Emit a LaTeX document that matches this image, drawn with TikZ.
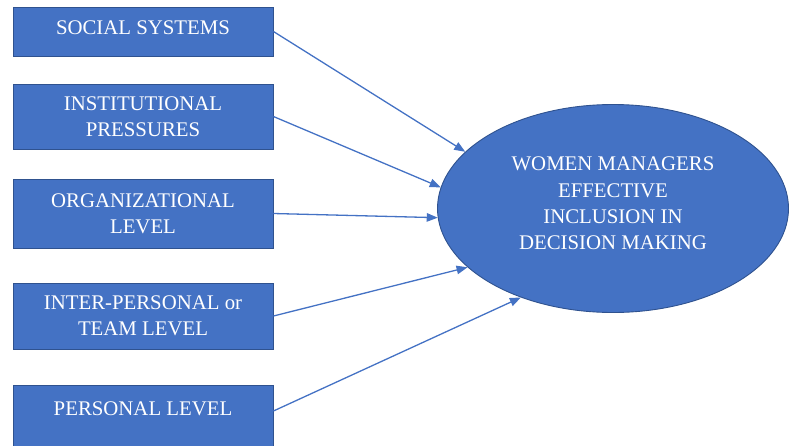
\documentclass[tikz,border=0pt]{standalone}
\usepackage{fontspec}
\setmainfont{Liberation Serif}
\usetikzlibrary{shapes.geometric,arrows.meta}
\definecolor{officeblue}{RGB}{68,114,196}
\definecolor{officeedge}{RGB}{47,82,143}

\begin{document}
\begin{tikzpicture}[x=1pt,y=1pt,
  factor/.style={draw=officeedge, line width=0.9pt, fill=officeblue, text=white, minimum width=260pt, inner sep=0pt, align=center, font=\fontsize{20.8}{26.3}\selectfont},
  link/.style={-{Triangle[length=11pt,width=8.5pt]}, officeblue, line width=1.3pt}]
\useasboundingbox (0,0) rectangle (790,-445);

% Factor boxes
\node[factor, minimum height=49pt, text depth=8pt] (social) at (143,-31.5) {SOCIAL SYSTEMS};
\node[factor, minimum height=65pt] (institutional) at (143,-116.5) {INSTITUTIONAL\\PRESSURES};
\node[factor, minimum height=69pt] (organizational) at (143,-213.5) {ORGANIZATIONAL\\LEVEL};
\node[factor, minimum height=66pt] (team) at (143,-316) {INTER-PERSONAL or\\TEAM LEVEL};
\node[factor, minimum height=66pt, text depth=18pt] (personal) at (143,-418) {PERSONAL LEVEL};

% Outcome
\node[ellipse, draw=officeedge, line width=0.9pt, fill=officeblue, text=white, minimum width=351pt, minimum height=208pt, align=center, text depth=10pt, font=\fontsize{20.8}{26.3}\selectfont] (inclusion) at (613,-208.5) {WOMEN MANAGERS\\EFFECTIVE\\INCLUSION IN\\DECISION MAKING};

% Arrows
\draw[link] (social.east) -- (inclusion.159);
\draw[link] (institutional.east) -- (inclusion.173);
\draw[link] (organizational.east) -- (inclusion.183);
\draw[link] (team.east) -- (inclusion.202);
\draw[link] ([yshift=7pt]personal.east) -- (inclusion.224);
\end{tikzpicture}
\end{document}
